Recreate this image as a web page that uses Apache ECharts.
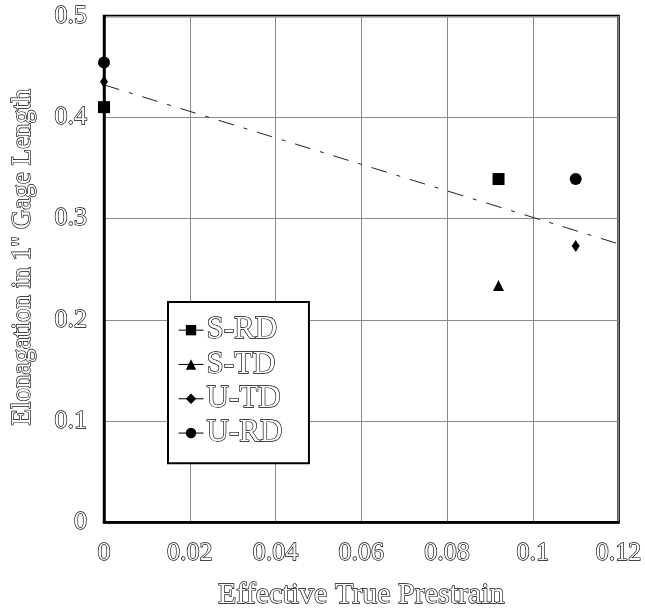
<!DOCTYPE html>
<html>
<head>
<meta charset="utf-8">
<script src="https://cdn.jsdelivr.net/npm/echarts@6/dist/echarts.min.js"></script>
<style>
  html, body { margin: 0; padding: 0; background: #fff; }
  #chart { width: 645px; height: 616px; }
</style>
</head>
<body>
<div id="chart"></div>
<script>
// Elongation vs. effective true prestrain for S/U sheets, rolling and transverse directions
const seriesNames = ['S-RD', 'S-TD', 'U-TD', 'U-RD'];
const sRD = [[0, 0.410], [0.092, 0.339]];
const sTD = [[0.092, 0.234]];
const uTD = [[0, 0.435], [0.11, 0.273]];
const uRD = [[0, 0.454], [0.11, 0.339]];
// trend line end points
const trendX = [0, 0.12];
const trendY = [0.432, 0.275];

const serif = '"Liberation Serif", "DejaVu Serif", serif';
// hollow serif lettering: white fill with a dark outline
const outlined = {
  fontFamily: serif,
  color: '#fff',
  textBorderColor: '#000',
  textBorderWidth: 1.3
};

function pointSeries(name, data, symbol, size) {
  return {
    name: name,
    type: 'line',
    data: data,
    symbol: symbol,
    symbolSize: size,
    showAllSymbol: true,
    itemStyle: { color: '#000' },
    lineStyle: { opacity: 0 },
    z: 5
  };
}

const chart = echarts.init(document.getElementById('chart'));
chart.setOption({
  animation: false,
  backgroundColor: '#fff',
  grid: {
    left: 104, top: 16, right: 24, bottom: 87,
    show: true, borderColor: '#000', borderWidth: 2.5
  },
  xAxis: {
    type: 'value', min: 0, max: 0.12, interval: 0.02,
    name: 'Effective True Prestrain',
    nameLocation: 'middle', nameGap: 58,
    nameTextStyle: Object.assign({ fontSize: 30 }, outlined),
    axisLine: { show: true, lineStyle: { color: '#000', width: 2.5 } },
    axisTick: { show: false },
    axisLabel: Object.assign({ fontSize: 26, margin: 18 }, outlined),
    splitLine: { show: true, lineStyle: { color: '#8a8a8a', width: 1 } }
  },
  yAxis: {
    type: 'value', min: 0, max: 0.5, interval: 0.1,
    name: 'Elonagation in 1" Gage Length',
    nameLocation: 'middle', nameGap: 68, nameRotate: 90,
    nameTextStyle: Object.assign({ fontSize: 27, padding: [0, 0, 0, 24] }, outlined),
    axisLine: { show: true, lineStyle: { color: '#000', width: 2.5 } },
    axisTick: { show: false },
    axisLabel: Object.assign({ fontSize: 26, margin: 17 }, outlined),
    splitLine: { show: true, lineStyle: { color: '#8a8a8a', width: 1 } }
  },
  legend: {
    data: seriesNames,
    orient: 'vertical',
    left: 168, top: 302,
    backgroundColor: '#fff',
    borderColor: '#000', borderWidth: 2,
    padding: [12, 26, 14, 10],
    itemWidth: 25, itemHeight: 13,
    itemGap: 2,
    lineStyle: { opacity: 1, width: 1, color: '#000' },
    textStyle: Object.assign({ fontSize: 31, padding: [0, 0, 0, -2] }, outlined)
  },
  series: [
    pointSeries('S-RD', sRD, 'rect', 12),
    pointSeries('S-TD', sTD, 'triangle', 11),
    pointSeries('U-TD', uTD, 'diamond', [8, 12]),
    pointSeries('U-RD', uRD, 'circle', 12),
    {
      name: 'trend',
      type: 'line',
      data: trendX.map((x, i) => [x, trendY[i]]),
      symbol: 'none',
      lineStyle: { color: '#222', width: 1, type: [16, 10, 4, 10] },
      z: 3
    }
  ]
});
</script>
</body>
</html>
